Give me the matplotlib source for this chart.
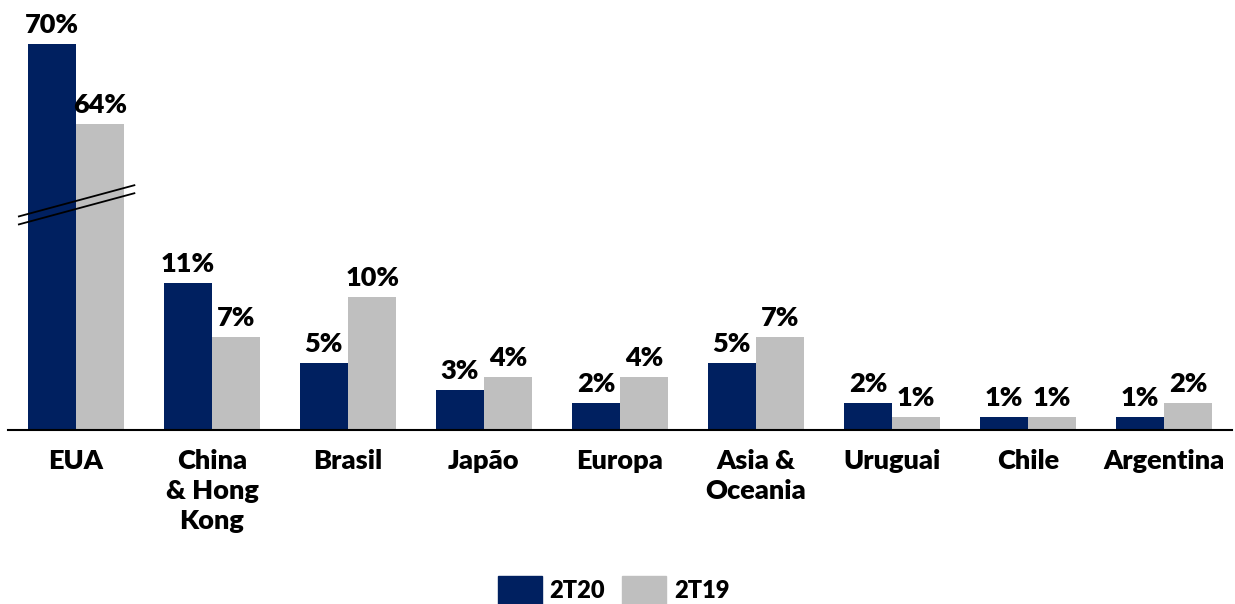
import numpy as np
import matplotlib
matplotlib.use("Agg")
import matplotlib.pyplot as plt
from matplotlib.patches import Patch

plt.rcParams['font.family'] = ['Lato', 'DejaVu Sans']
plt.rcParams['font.weight'] = 'heavy'

categories = ["EUA", "China\n& Hong\nKong", "Brasil", "Japão", "Europa",
              "Asia &\nOceania", "Uruguai", "Chile", "Argentina"]
val_2t20 = [70, 11, 5, 3, 2, 5, 2, 1, 1]
val_2t19 = [64, 7, 10, 4, 4, 7, 1, 1, 2]
series_names = ["2T20", "2T19"]

navy = "#002060"
gray = "#BFBFBF"

# axis break: values above this are drawn shortened by break_cut
break_cut = 41.1
break_level = 16.0


def shown(v):
    return v - break_cut if v > 30 else v


fig = plt.figure(figsize=(12.35, 6.04), dpi=100)
ax = fig.add_axes([8 / 1235, 1 - 430 / 604, 1224 / 1235, 430 / 604])

x = np.arange(len(categories))
w = 0.355
h1 = [shown(v) for v in val_2t20]
h2 = [shown(v) for v in val_2t19]
b1 = ax.bar(x - w / 2, h1, w, color=navy)
b2 = ax.bar(x + w / 2, h2, w, color=gray)

for bars, vals in ((b1, val_2t20), (b2, val_2t19)):
    for rect, v in zip(bars, vals):
        ax.annotate(f"{v}%", (rect.get_x() + rect.get_width() / 2, rect.get_height()),
                    xytext=(0, 5), textcoords="offset points", ha="center", va="bottom",
                    fontsize=19.5, fontweight="heavy")

# break marks across the EUA pair
bx = np.array([x[0] - 0.91 * w * 1.3, x[0] + 0.93 * w * 1.3])
for off in (0, -0.6):
    ax.plot(bx, break_level + off + (bx - bx[0]) * 2.75, color="black", lw=1.3,
            clip_on=False, zorder=5)

ax.set_xlim(-0.5, 8.5)
ax.set_ylim(0, 430 / 13.35)
ax.set_xticks(x)
ax.set_xticklabels(categories, fontsize=19.5, fontweight="heavy", linespacing=1.28)
ax.tick_params(axis="x", length=0, pad=14)
ax.set_yticks([])
for s in ("top", "right", "left"):
    ax.spines[s].set_visible(False)
ax.spines["bottom"].set_linewidth(1.5)

handles = [Patch(color=navy), Patch(color=gray)]
fig.legend(handles, series_names, loc="lower center", bbox_to_anchor=(0.497, -0.035),
           ncol=2, frameon=False, prop={"size": 17, "weight": "heavy"},
           handlelength=1.86, handleheight=1.45, handletextpad=0.34, columnspacing=0.72)

fig.savefig("out.png", dpi=100)
